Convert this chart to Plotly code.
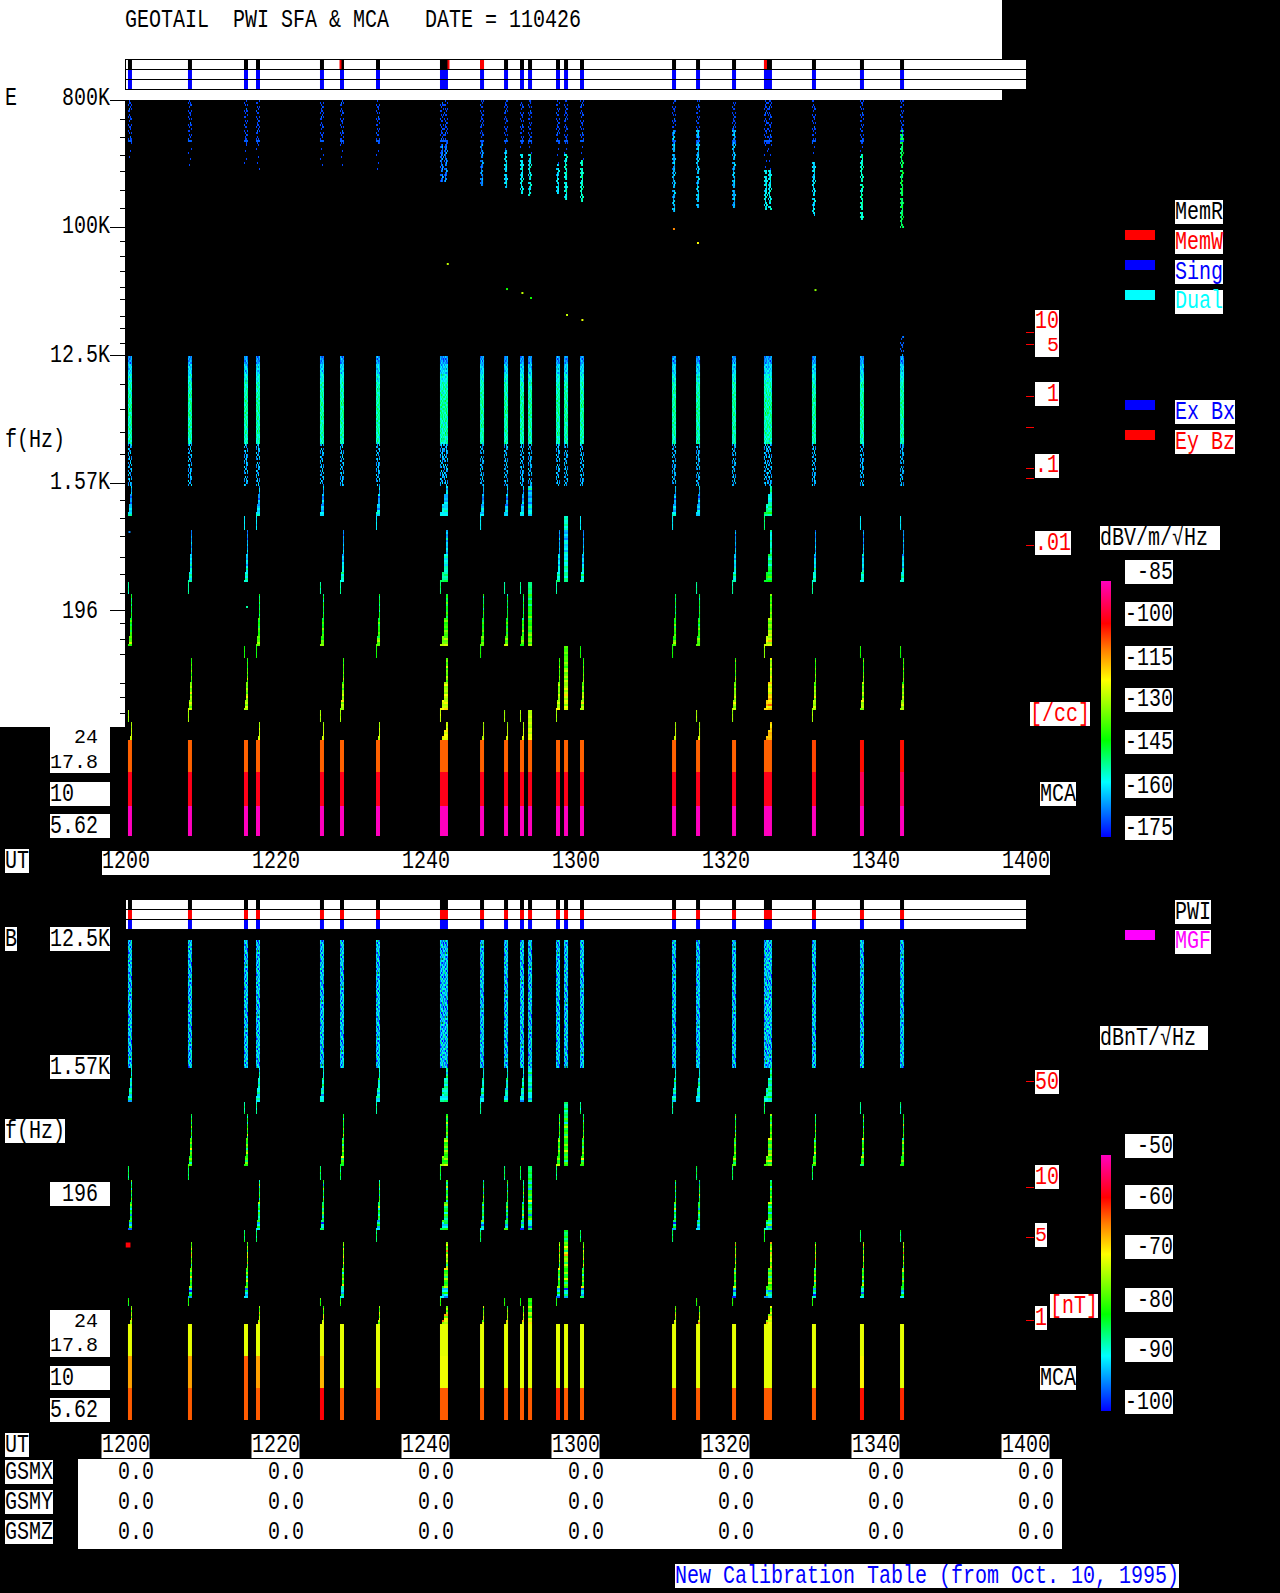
import math
import numpy as np
import plotly.graph_objects as go

W, H = 1280, 1593
# ---------- data ----------
BURST_START_MIN = [0.33, 8.33, 15.8, 17.4, 25.93, 28.6, 33.4, 41.93, 47.27, 50.47, 52.6, 53.67,
                   57.4, 58.47, 60.6, 72.87, 76.07, 80.87, 85.13, 91.53, 97.93, 103.27]
BURST_COLS = [4, 4, 4, 4, 4, 4, 4, 8, 4, 4, 4, 4, 4, 4, 4, 4, 4, 4, 8, 4, 4, 4]
GROUP_EVEN = [0, 3, 4, 6, 7, 8, 9, 10, 11, 15, 16, 18]
GROUP_ODD = [1, 2, 5, 7, 12, 13, 14, 17, 18, 19, 20, 21]
FULL_WIDTH = [11, 13]
STRAY_A = [2, 3, 6, 8, 13, 14, 15, 18, 20, 21]
STRAY_B = [0, 1, 4, 5, 7, 9, 10, 11, 12, 16, 17, 19]
ALL = list(range(22))
E_SLOPE_BOOST = [0, 0, 0, 0, 0, 0, 0, 3, 0, 0, 0, 2, 0, 4, 0, 0, 0, 0, 10, 0, 0, 0]
B_SLOPE_BOOST = [0, 0, 0, 0, 0, 0, 0, 1, 0, 0, 0, 0, 0, 0, 0, 0, 0, 0, 2, 0, 0, 0]

TILE_SPARSE = [".4..", ".44.", "4..4", "..4.", ".6.4", "44..", "....", ".4..", "4.4.", "..45", ".4..", "....",
               "4..4", ".44.", "..4.", "4...", ".4.4", "....", "..6.", "4.44", ".4..", "...4", "44..", "....",
               ".4.4", "..4.", "5...", ".44.", "....", "4..4", ".4..", "..54"]
TILE_THIN = ["....", "..4.", "....", "....", ".4..", "....", "....", "...4", "....", "4...", "....", "....",
             "..4.", "....", "....", ".4..", "....", "....", "....", "..4.", "....", "4...", "....", "...."]
TILE_MOST = [".45.", "445.", ".54.", "....", "454.", ".44.", "5445", ".35.", "456.", "..4.", ".44.", "345.",
             ".54.", "44.5", ".46.", "54..", ".4..", ".45.", "4.54", ".36.", ".54.", "....", "445.", "..65",
             ".44.", "354.", ".4..", ".55.", "46..", ".45.", "..4.", "546."]
TILE_DENSE = ["4536", "5246", "3564", "6415", "4753", "3546", "2364", "4635", "6354", "3465", "5743", "4156",
              "6534", "3645", "5463", "4563", "3274", "5436", "6341", "4562", "3754", "5136", "4625", "6443",
              "2546", "5364", "3817", "4655", "5324", "6453", "4265", "3546"]
TILE_SPECK = ["4.53", ".36.", "5.4.", "3.64", "..45", "6.3.", ".54.", "4..6", "35.4", "....", ".6.3", "4.5.",
              "3.46", "..53", "64..", ".34.", "5.6.", "4...", ".5.3", "36.4", "..5.", "4.6.", ".3.5", "54..",
              "..36", "4..5", ".63.", "5.4.", "...3", "46.5", ".4..", "3.54"]
TILE_STRIPE = ["4444", "6666", "3333", "4444", "7777", "4444", "2222", "5555", "4444", "1111", "5555", "4444",
               "6666", "3333", "4444", "8888", "2222", "5555", "4444", "3333", "6666", "4444", "1111", "5555",
               "7777", "3333", "4444", "5555", "2222", "6666", "4444", "3333"]

E_HF_END_HZ = [301e3, 265e3, 265e3, 256e3, 256e3, 265e3, 256e3, 211e3, 191e3, 194e3, 168e3, 168e3,
               176e3, 157e3, 152e3, 129e3, 136e3, 138e3, 134e3, 123e3, 114e3, 100e3]
E_HF_BRIGHT_TOP_HZ = [None, None, None, None, None, None, None, 385e3, 385e3, 354e3, 327e3, 327e3,
                      278e3, 327e3, 301e3, 491e3, 491e3, 491e3, 256e3, 301e3, 327e3, 491e3]
E_HF_BRIGHT_DB = [-170, -170, -170, -170, -170, -170, -170, -168, -167, -160, -158, -158,
                  -160, -156, -154, -163, -162, -163, -158, -160, -154, -148]
E_MCA_HI = [-107] * 19 + [-105, -101, -101]
E_MCA_MID = [-98] * 20 + [-93, -93]
E_MCA_LO = [-85] * 22
B_MCA_HI = [-70.5] * 22
B_MCA_MID = [-65, -65, -62, -65, -66, -70.5, -70.5, -70, -70.5, -70.5, -70.5, -70.5, -70.5, -70.5, -70.5,
             -70.5, -70.5, -70.5, -70.5, -70.5, -69, -70.5]
B_MCA_LO = [-62, -62, -62, -62, -58, -62, -62, -62, -62, -62, -62, -62, -60, -62, -62, -62, -62, -62, -62, -62, -59, -60]
# frequency hi, frequency lo, members, shape, dB steps top->bottom, tile, dB per tile step
E_LAYERS = [
    (800e3, 385e3, ALL, "full", [-170], TILE_SPARSE, 2),
    (17.2e3, 12.6e3, [21], "full", [-168], TILE_SPARSE, 3),
    (12.6e3, 2918, ALL, "full", [-165, -160, -156, -153, -152, -151, -151, -152, -152, -153], TILE_DENSE, 2.5),
    (2918, 1521, ALL, "full", [-163], TILE_SPECK, 3),
    (1521, 904, GROUP_EVEN, "wide", [-160, -163, -165, -162, -160, -158], TILE_STRIPE, 2),
    (904, 731, STRAY_A, "stray", [-157], TILE_STRIPE, 1),
    (731, 314, GROUP_ODD, "slope", [-165, -163, -162, -160, -158, -155, -153], TILE_STRIPE, 2),
    (314, 258, STRAY_B, "stray", [-150], TILE_STRIPE, 1),
    (258, 111, GROUP_EVEN, "slope", [-147, -145, -143, -141, -138, -134], TILE_STRIPE, 2.5),
    (111, 91, STRAY_A, "stray", [-140], TILE_STRIPE, 1),
    (91, 39.2, GROUP_ODD, "slope", [-138, -136, -133, -131, -128, -127], TILE_STRIPE, 2.5),
    (39.2, 31.8, STRAY_B, "stray", [-128], TILE_STRIPE, 1),
    (31.8, 23.7, GROUP_EVEN, "thin", [-128, -125, -124], TILE_STRIPE, 1),
]
B_LAYERS = [
    (12500, 1561, ALL, "full", [-93], TILE_DENSE, 3),
    (1561, 898, GROUP_EVEN, "wide", [-89, -88, -88, -90], TILE_STRIPE, 1.5),
    (898, 740, STRAY_A, "stray", [-86], TILE_STRIPE, 1),
    (740, 318, GROUP_ODD, "slope", [-83, -81, -80, -79, -80], TILE_STRIPE, 2.5),
    (318, 257, STRAY_B, "stray", [-84], TILE_STRIPE, 1),
    (257, 114, GROUP_EVEN, "slope", [-85, -83, -82, -84, -85, -90], TILE_STRIPE, 3),
    (114, 92.4, STRAY_A, "stray", [-84], TILE_STRIPE, 1),
    (92.4, 37.2, GROUP_ODD, "slope", [-76, -74, -78, -80, -80, -90], TILE_STRIPE, 3),
    (37.2, 32.7, STRAY_B, "stray", [-80], TILE_STRIPE, 1),
    (32.7, 24, GROUP_EVEN, "thin", [-78, -74, -72], TILE_STRIPE, 2),
]
HF_LINE_HZ = 410e3
E_DOT_MIN = [42.97, 50.87, 52.92, 54.07, 58.87, 60.92, 73.13, 76.33, 92.0, 0.53, 16.2]
E_DOT_HZ = [55.5e3, 36.9e3, 34.6e3, 31.9e3, 24.2e3, 22.3e3, 98e3, 78e3, 36.3e3, 708, 209]
E_DOT_DB = [-125, -140, -125, -140, -125, -122, -110, -120, -130, -165, -150]
B_DOT_MIN = [0.33]
B_DOT_HZ = [88]
B_DOT_DB = [-58]
MEMW_START_MIN = [28.6, 43.0, 47.27, 85.13]
MEMW_LEN_MIN = [0.13, 0.13, 0.53, 0.4]

E_MAJOR_HZ = [800e3, 100e3, 12.5e3, 1.57e3, 196]
E_MINOR_HZ = [587e3, 438e3, 322e3, 248e3, 182e3, 136e3, 80.6e3, 62.2e3, 49.5e3, 38.1e3, 30.9e3, 23.8e3, 19.3e3, 15.1e3,
              7.75e3, 5.24e3, 3.55e3, 2.48e3, 1.19e3, 875, 653, 471, 352, 262, 161, 124, 95.7, 59.7, 48.3, 37.2]
COLORSCALE = [[0, "rgb(0,0,255)"], [0.215, "rgb(0,255,255)"], [0.378, "rgb(0,255,0)"], [0.613, "rgb(255,255,0)"],
              [0.73, "rgb(255,128,0)"], [0.834, "rgb(255,0,0)"], [1, "rgb(255,0,190)"]]
TIME_LABELS = ["1200", "1220", "1240", "1300", "1320", "1340", "1400"]
TIME_MIN = [0, 20, 40, 60, 80, 100, 120]
GSM_VALUES = ["0.0"] * 7

FONT = "Liberation Mono"
FS = 20

# ---------- geometry ----------
X0, X1 = 125.5, 1025.5
PXMIN = 7.5
E_TOP, E_BOT, E_DEC = 100, 837, 141.5
B_TOP, B_BOT, B_DEC = 940, 1421, 141.7
E_LOG_TOP = math.log10(800e3)
B_LOG_TOP = math.log10(12500)


def fx(p):
    return p / W


def fy(p):
    return 1 - p / H


def rows(log_top, top, bot, dec):
    n = (bot - top) // 2
    return [10 ** (log_top - (2 * k + 1) / dec) for k in range(n)]


def paint(z, r_hz, layer, i, boost=0):
    hi, lo, members, shape, steps, tile, step = layer
    if i not in members:
        return
    cols = z.shape[1]
    sel = [r for r, f in enumerate(r_hz) if lo <= f < hi]
    for n, r in enumerate(sel):
        frac = (n + 0.5) / len(sel)
        base = steps[min(int(frac * len(steps)), len(steps) - 1)]
        if shape == "full" or i in FULL_WIDTH:
            use = range(cols)
        elif shape == "stray":
            use = [0]
        else:
            if shape == "wide":
                share = 0.25 if frac < 0.3 else 0.5 if frac < 0.6 else 0.75 if frac < 0.85 else 1
            elif shape == "thin" and cols == 4:
                share = 0.25 if frac < 0.8 else 0.5
            else:
                share = 0.25 if frac < 0.45 else 0.5 if frac < 0.8 else 0.75 if frac < 0.95 else 1
            use = range(cols - int(round(cols * share)), cols)
        for c in use:
            ch = tile[(r + 7 * i + (c // 4) * 3) % len(tile)][c % 4]
            if ch != ".":
                z[r, c] = base + boost + (int(ch) - 4) * step


def e_burst(i, r_hz):
    z = np.full((len(r_hz), BURST_COLS[i]), np.nan)
    for layer in E_LAYERS:
        paint(z, r_hz, layer, i, E_SLOPE_BOOST[i] if layer[3] != "full" else 0)
    top = E_HF_BRIGHT_TOP_HZ[i]
    end = E_HF_END_HZ[i]
    if top is None:
        paint(z, r_hz, (385e3, end, ALL, "full", [-170], TILE_THIN, 2), i)
    else:
        paint(z, r_hz, (385e3, top, ALL, "full", [-170], TILE_THIN, 2), i)
        paint(z, r_hz, (top, end, ALL, "full", [E_HF_BRIGHT_DB[i]], TILE_MOST, 4), i)
    paint(z, r_hz, (HF_LINE_HZ * 1.03, HF_LINE_HZ / 1.03, ALL, "full", [-168], TILE_STRIPE, 0), i)
    paint(z, r_hz, (23.7, 14.3, ALL, "full", [E_MCA_HI[i]], TILE_STRIPE, 0), i)
    paint(z, r_hz, (14.3, 8.3, ALL, "full", [E_MCA_MID[i]], TILE_STRIPE, 0), i)
    paint(z, r_hz, (8.3, 4.9, ALL, "full", [E_MCA_LO[i]], TILE_STRIPE, 0), i)
    return z


def b_burst(i, r_hz):
    z = np.full((len(r_hz), BURST_COLS[i]), np.nan)
    for layer in B_LAYERS:
        paint(z, r_hz, layer, i, B_SLOPE_BOOST[i] if layer[3] != "full" else 0)
    paint(z, r_hz, (24, 14.5, ALL, "full", [B_MCA_HI[i]], TILE_STRIPE, 0), i)
    paint(z, r_hz, (14.5, 8.6, ALL, "full", [B_MCA_MID[i]], TILE_STRIPE, 0), i)
    paint(z, r_hz, (8.6, 4.9, ALL, "full", [B_MCA_LO[i]], TILE_STRIPE, 0), i)
    return z


fig = go.Figure()
e_rows = rows(E_LOG_TOP, E_TOP, E_BOT, E_DEC)
b_rows = rows(B_LOG_TOP, B_TOP, B_BOT, B_DEC)
for i, start in enumerate(BURST_START_MIN):
    xs = [start + (c + 0.5) / PXMIN for c in range(BURST_COLS[i])]
    fig.add_trace(go.Heatmap(x=xs, y=e_rows, z=e_burst(i, e_rows), coloraxis="coloraxis", xaxis="x", yaxis="y",
                             hoverinfo="skip", showlegend=False))
    fig.add_trace(go.Heatmap(x=xs, y=b_rows, z=b_burst(i, b_rows), coloraxis="coloraxis2", xaxis="x2", yaxis="y2",
                             hoverinfo="skip", showlegend=False))
fig.add_trace(go.Scatter(x=E_DOT_MIN, y=E_DOT_HZ, mode="markers", xaxis="x", yaxis="y", hoverinfo="skip", showlegend=False,
                         marker=dict(symbol="square", size=2, color=E_DOT_DB, coloraxis="coloraxis")))
fig.add_trace(go.Scatter(x=B_DOT_MIN, y=B_DOT_HZ, mode="markers", xaxis="x2", yaxis="y2", hoverinfo="skip", showlegend=False,
                         marker=dict(symbol="square", size=5, color=B_DOT_DB, coloraxis="coloraxis2")))

# status bars
widths = [c / PXMIN for c in BURST_COLS]
centers = [s + w / 2 for s, w in zip(BURST_START_MIN, widths)]
n = len(centers)


def status(xa, ya, base, height, color, cx=centers, wd=widths):
    fig.add_trace(go.Bar(x=cx, y=[height] * len(cx), base=[base] * len(cx), width=wd, xaxis=xa, yaxis=ya,
                         marker=dict(color=color, line=dict(width=0)), hoverinfo="skip", showlegend=False))


status("x3", "y3", 2, 1, "black")
status("x3", "y3", 0, 2, "rgb(0,0,255)")
status("x3", "y3", 2, 1, "rgb(255,0,0)", [s + w / 2 for s, w in zip(MEMW_START_MIN, MEMW_LEN_MIN)], MEMW_LEN_MIN)
status("x4", "y4", 2, 1, "black")
status("x4", "y4", 1, 1, "rgb(255,0,0)")
status("x4", "y4", 0, 1, "rgb(0,0,255)")

shapes = []
annos = []


def rect(x0, y0, x1, y1, color="white", layer="below"):
    shapes.append(dict(type="rect", xref="paper", yref="paper", x0=fx(x0), x1=fx(x1), y0=fy(y0), y1=fy(y1),
                       fillcolor=color, line=dict(width=0), layer=layer))


def line(x0, y0, x1, y1, color="black", layer="above"):
    shapes.append(dict(type="line", xref="paper", yref="paper", x0=fx(x0), x1=fx(x1), y0=fy(y0), y1=fy(y1),
                       line=dict(color=color, width=1), layer=layer))


def text(s, x, yc, color="black", anchor="left"):
    annos.append(dict(text=s, xref="paper", yref="paper", x=fx(x), y=fy(yc), xanchor=anchor, yanchor="middle",
                      showarrow=False, borderpad=0, borderwidth=0,
                      font=dict(family=FONT, size=FS, color=color)))


def label(s, x0, y0, x1, y1, color="black", tx=None, anchor="left"):
    rect(x0, y0, x1, y1)
    text(s, x0 if tx is None else tx, (y0 + y1) / 2, color, anchor)


# white page regions
rect(0, 0, 1002, 100)
rect(0, 100, 125, 727)
rect(50, 727, 110, 773)
rect(125, 59, 1026, 89.5)
rect(102, 851, 1050, 875)
rect(126, 900, 1026, 929)
rect(78, 1459, 1062, 1549)
for y in (59, 69, 79, 89):
    line(125, y + 0.5, 1026, y + 0.5)
line(125.5, 59, 125.5, 89.5)
line(126, 909.5, 1026, 909.5)
line(126, 919.5, 1026, 919.5)

text("GEOTAIL  PWI SFA & MCA   DATE = 110426", 124.5, 20)
text("E", 5, 99)
text("800K", 110, 99, anchor="right")
text("100K", 110, 226, anchor="right")
text("12.5K", 110, 355, anchor="right")
text("f(Hz)", 5, 440)
text("1.57K", 110, 482, anchor="right")
text("196", 98, 611, anchor="right")
text("24", 98, 738, anchor="right")
text("17.8", 98, 762.5, anchor="right")
label("10", 50, 782, 110, 806)
label("5.62", 50, 814, 110, 838)
label("UT", 5, 849, 29, 873)
label("UT", 5, 1433, 29, 1457)
for m, s in zip(TIME_MIN, TIME_LABELS):
    px = X0 + m * PXMIN
    text(s, px, 861, anchor="center")
    rect(px - 24, 1434, px + 24, 1458)
    text(s, px, 1445, anchor="center")

# legend boxes
for s, y, col, swatch in [("MemR", 200, "black", None), ("MemW", 230, "rgb(255,0,0)", "rgb(255,0,0)"),
                          ("Sing", 260, "rgb(0,0,255)", "rgb(0,0,255)"), ("Dual", 290, "rgb(0,255,255)", "rgb(0,255,255)")]:
    label(s, 1175, y, 1223, y + 24, col)
    if swatch:
        rect(1125, y, 1155, y + 10, swatch)
for s, y, col in [("Ex Bx", 400, "rgb(0,0,255)"), ("Ey Bz", 430, "rgb(255,0,0)")]:
    label(s, 1175, y, 1235, y + 24, col)
    rect(1125, y, 1155, y + 10, col)
label("PWI", 1175, 900, 1211, 924)
label("MGF", 1175, 930, 1211, 954, "rgb(255,0,255)")
rect(1125, 930, 1155, 940, "rgb(255,0,255)")

RED = "rgb(255,0,0)"
rect(1035, 310, 1059, 357)
text("10", 1035, 321, RED)
text("5", 1059, 345.5, RED, "right")
label("1", 1035, 382, 1059, 406, RED, 1059, "right")
label(".1", 1035, 454, 1059, 478, RED)
label(".01", 1035, 531, 1071, 555, RED)
label("[/cc]", 1030, 702, 1090, 726, RED)
label("MCA", 1040, 782, 1076, 806)
for y in (332, 344, 396, 427, 468, 478, 545):
    line(1026, y + 0.5, 1034, y + 0.5, RED)
label("dBV/m/\u221aHz", 1100, 526, 1220, 550)
for s, y in zip(["-85", "-100", "-115", "-130", "-145", "-160", "-175"], [560, 602, 646, 688, 730, 774, 816]):
    label(s, 1125, y, 1173, y + 24, tx=1173, anchor="right")

# B panel labels
label("B", 5, 927, 17, 951)
label("12.5K", 50, 927, 110, 951)
label("1.57K", 50, 1055, 110, 1079)
label("f(Hz)", 5, 1119, 65, 1143)
label("196", 50, 1182, 110, 1206, tx=98, anchor="right")
rect(50, 1310, 110, 1357)
text("24", 98, 1321, anchor="right")
text("17.8", 98, 1345.5, anchor="right")
label("10", 50, 1366, 110, 1390)
label("5.62", 50, 1398, 110, 1422)
label("50", 1035, 1070, 1059, 1094, RED)
label("10", 1035, 1165, 1059, 1189, RED)
label("5", 1035, 1223, 1047, 1247, RED)
label("1", 1035, 1306, 1047, 1330, RED)
label("[nT]", 1050, 1294, 1098, 1318, RED)
label("MCA", 1040, 1366, 1076, 1390)
for y in (1081, 1187, 1237, 1320):
    line(1026, y + 0.5, 1034, y + 0.5, RED)
label("dBnT/\u221aHz", 1100, 1026, 1208, 1050)
for s, y in zip(["-50", "-60", "-70", "-80", "-90", "-100"], [1134, 1185, 1235, 1288, 1338, 1390]):
    label(s, 1125, y, 1173, y + 24, tx=1173, anchor="right")

# GSM table
for s, y in [("GSMX", 1460), ("GSMY", 1490), ("GSMZ", 1520)]:
    label(s, 5, y, 53, y + 24)
    for m, v in zip(TIME_MIN, GSM_VALUES):
        text(v, X0 + m * PXMIN + 10, y + 12, anchor="center")
label("New Calibration Table (from Oct. 10, 1995)", 675, 1564, 1179, 1588, "rgb(0,0,255)")

XDOM = [X0 / W, X1 / W]
hidden_x = dict(range=[0, 120], domain=XDOM, visible=False, fixedrange=True)


def cbar(top):
    return dict(x=1101 / W, xanchor="left", y=fy(top), yanchor="top", len=256, lenmode="pixels", thickness=10,
                thicknessmode="pixels", xpad=0, ypad=0, outlinewidth=0, borderwidth=0, showticklabels=False, ticks="")


fig.update_layout(
    width=W, height=H, autosize=False, margin=dict(l=0, r=0, t=0, b=0, pad=0),
    paper_bgcolor="black", plot_bgcolor="black", showlegend=False, barmode="overlay",
    xaxis=dict(hidden_x, anchor="y"),
    xaxis2=dict(hidden_x, anchor="y2"),
    xaxis3=dict(hidden_x, anchor="y3"),
    xaxis4=dict(hidden_x, anchor="y4"),
    yaxis=dict(type="log", domain=[fy(E_BOT), fy(E_TOP)], range=[E_LOG_TOP - (E_BOT - E_TOP) / E_DEC, E_LOG_TOP],
               anchor="x", showgrid=False, zeroline=False, showline=False, showticklabels=False,
               ticks="outside", tickmode="array", tickvals=E_MAJOR_HZ, ticklen=15, tickcolor="black", tickwidth=1,
               minor=dict(tickmode="array", tickvals=E_MINOR_HZ, ticks="outside", ticklen=5, tickcolor="black", tickwidth=1, showgrid=False),
               fixedrange=True),
    yaxis2=dict(type="log", domain=[fy(B_BOT), fy(B_TOP)], range=[B_LOG_TOP - (B_BOT - B_TOP) / B_DEC, B_LOG_TOP],
                anchor="x2", visible=False, fixedrange=True),
    yaxis3=dict(domain=[fy(89.5), fy(59.5)], range=[0, 3], anchor="x3", visible=False, fixedrange=True),
    yaxis4=dict(domain=[fy(929), fy(900)], range=[0, 3], anchor="x4", visible=False, fixedrange=True),
    coloraxis=dict(cmin=-175, cmax=-85, colorscale=COLORSCALE, colorbar=cbar(581)),
    coloraxis2=dict(cmin=-100, cmax=-50, colorscale=COLORSCALE, colorbar=cbar(1155)),
    shapes=shapes, annotations=annos,
)
STRETCH_JS = """
document.body.style.margin='0';document.body.style.background='black';
function stretchLabels(){
  document.querySelectorAll('.annotation-text').forEach(function(t){
    var s=t.textContent, b=t.getBBox();
    var tight=(s==='24'||s==='17.8'||s==='5'&&b.y<400);
    var k=tight?1.03:1.28, cx=b.x+b.width/2, cy=b.y+b.height/2;
    t.setAttribute('transform','translate('+cx+' '+cy+') scale(1 '+k+') translate('+(-cx)+' '+(-cy)+')');
  });
}
stretchLabels();setTimeout(stretchLabels,50);setTimeout(stretchLabels,300);
"""
fig.write_html("out.html", config=dict(displayModeBar=False), post_script=STRETCH_JS)
